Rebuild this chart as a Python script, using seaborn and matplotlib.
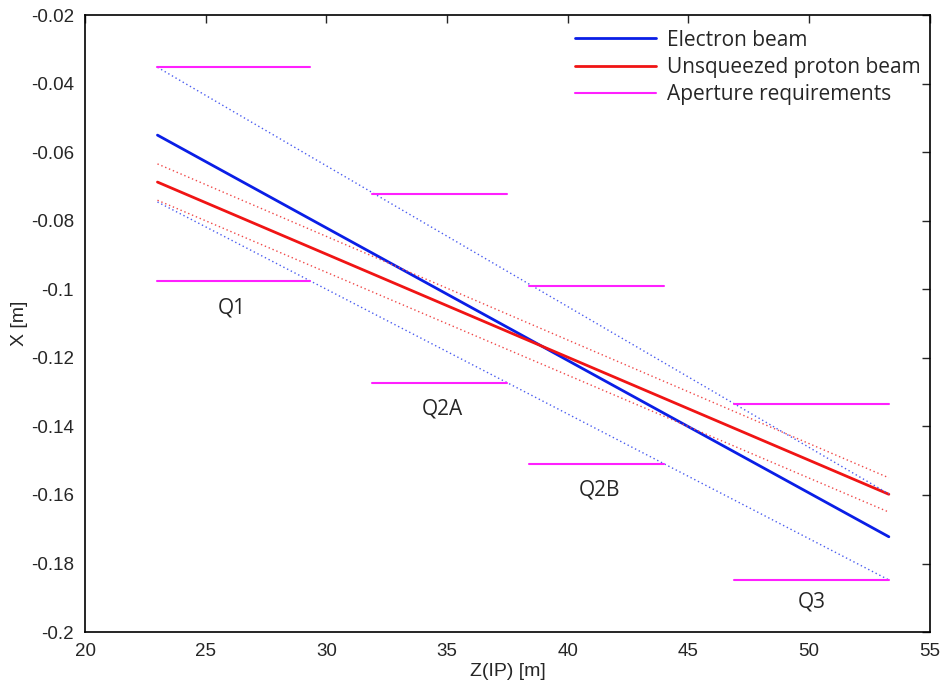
import numpy as np
import pandas as pd
import seaborn as sns
import matplotlib
matplotlib.use("Agg")
import matplotlib.pyplot as plt
from matplotlib.ticker import FuncFormatter, MultipleLocator

# beam centre lines and envelopes (z in m, x in m), read at both ends
z_beam = [23.0, 53.3]
e_center = [-0.0550, -0.1722]
e_upper = [-0.0352, -0.1597]
e_lower = [-0.0745, -0.1848]
p_center = [-0.0687, -0.1598]
p_upper = [-0.0634, -0.1550]
p_lower = [-0.0740, -0.1650]

# aperture requirements per magnet
magnets = ["Q1", "Q2A", "Q2B", "Q3"]
ap_zstart = [23.0, 31.9, 38.4, 46.9]
ap_zend = [29.3, 37.5, 44.0, 53.3]
ap_top = [-0.0352, -0.0722, -0.0990, -0.1335]
ap_bottom = [-0.0976, -0.1274, -0.1510, -0.1848]
label_z = [26.1, 34.8, 41.3, 50.1]
label_x = [-0.1053, -0.1350, -0.1585, -0.1912]

sns.set_style("white")
plt.rcParams['font.family'] = ['Open Sans', 'DejaVu Sans']
tick_font = ['Liberation Sans', 'DejaVu Sans']

fig, ax = plt.subplots(figsize=(9.45, 6.9), dpi=100)
fig.subplots_adjust(left=0.09, right=0.984, bottom=0.084, top=0.978)

blue = "#0a1ee6"
red = "#f01414"
magenta = "#ff20ff"

sns.lineplot(x=z_beam, y=e_center, ax=ax, color=blue, lw=2, label="Electron beam")
sns.lineplot(x=z_beam, y=p_center, ax=ax, color=red, lw=2, label="Unsqueezed proton beam")
for ys, c in [(e_upper, "#4a5cf0"), (e_lower, "#4a5cf0"), (p_upper, "#f04848"), (p_lower, "#f04848")]:
    sns.lineplot(x=z_beam, y=ys, ax=ax, color=c, lw=1.0, linestyle=(0, (1, 2)))

for i, name in enumerate(magnets):
    lab = "Aperture requirements" if i == 0 else None
    sns.lineplot(x=[ap_zstart[i], ap_zend[i]], y=[ap_top[i], ap_top[i]], ax=ax,
                 color=magenta, lw=1.5, label=lab)
    sns.lineplot(x=[ap_zstart[i], ap_zend[i]], y=[ap_bottom[i], ap_bottom[i]], ax=ax,
                 color=magenta, lw=1.5)
    ax.text(label_z[i], label_x[i], name, fontsize=15, ha="center", va="center")

ax.set_xlim(20, 55)
ax.set_ylim(-0.2, -0.02)
ax.xaxis.set_major_locator(MultipleLocator(5))
ax.yaxis.set_major_locator(MultipleLocator(0.02))
ax.yaxis.set_major_formatter(FuncFormatter(lambda v, p: "%g" % round(v, 3)))
ax.tick_params(direction="in", length=6, width=1, top=True, right=True,
               labelsize=13.5, pad=8)
for lab in ax.get_xticklabels() + ax.get_yticklabels():
    lab.set_family(tick_font)
for s in ax.spines.values():
    s.set_color("black")
    s.set_linewidth(1.2)

ax.set_xlabel("Z(IP) [m]", fontsize=14, labelpad=2, family=tick_font)
ax.set_ylabel("X [m]", fontsize=14, labelpad=2, family=tick_font)

leg = ax.legend(loc="upper right", frameon=False, fontsize=15, handlelength=3.9,
                borderaxespad=0.3, borderpad=0.4, labelspacing=0.3, handletextpad=0.5,
                bbox_to_anchor=(1.006, 1.0))

fig.savefig("out.png", dpi=100)
